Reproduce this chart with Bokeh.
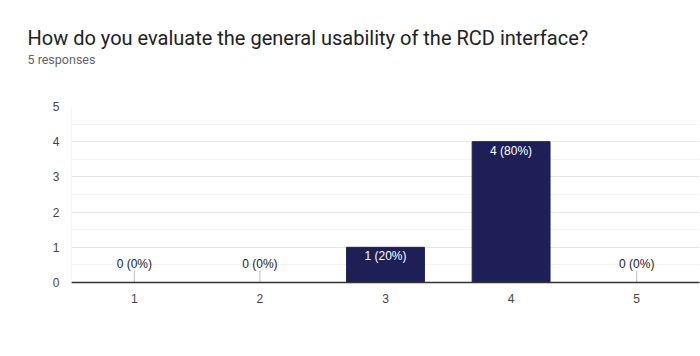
from bokeh.plotting import figure
from bokeh.models import Range1d, Title, SingleIntervalTicker, FixedTicker, ColumnDataSource, Span
from bokeh.core.properties import value
from bokeh.embed import file_html
from bokeh.resources import INLINE

title = "How do you evaluate the general usability of the RCD interface?"
subtitle = "5 responses"
categories = [1, 2, 3, 4, 5]
counts = [0, 0, 1, 4, 0]
total = sum(counts)
labels = [f"{c} ({round(100 * c / total)}%)" for c in counts]

BAR = "#1e1f56"
LEADER = 0.34  # leader line length (data units) for zero labels

p = figure(width=700, height=356, output_backend="svg", toolbar_location=None,
           x_range=Range1d(0.5, 5.5), y_range=Range1d(0, 5),
           min_border_left=71, min_border_right=1, min_border_top=106, min_border_bottom=74)
p.outline_line_color = None
p.background_fill_color = "white"
p.border_fill_color = "white"

src = ColumnDataSource(dict(x=categories, top=counts, label=labels))
pos = ColumnDataSource(dict(x=[c for c, v in zip(categories, counts) if v > 0],
                            top=[v for v in counts if v > 0],
                            label=[l for l, v in zip(labels, counts) if v > 0]))
zero = ColumnDataSource(dict(x=[c for c, v in zip(categories, counts) if v == 0],
                             y=[0 for v in counts if v == 0],
                             y1=[LEADER for v in counts if v == 0],
                             label=[l for l, v in zip(labels, counts) if v == 0]))

p.vbar(x="x", top="top", width=0.62, source=src, fill_color=BAR, line_color=BAR)

p.text(x="x", y="top", text="label", source=pos, text_align="center", text_baseline="top",
       y_offset=2, text_color="white", text_font_size="12px", text_font=value("Liberation Sans"))
p.segment(x0="x", y0="y", x1="x", y1="y1", source=zero, line_color="#bdbdbd", line_width=1)
p.text(x="x", y="y", text="label", source=zero, text_align="center", text_baseline="bottom",
       y_offset=-12, text_color="#222222", text_font_size="12px", text_font=value("Liberation Sans"))

# axes
p.yaxis.ticker = SingleIntervalTicker(interval=1, num_minor_ticks=2)
p.xaxis.ticker = FixedTicker(ticks=categories)
for ax in (p.xaxis, p.yaxis):
    ax.major_tick_line_color = None
    ax.minor_tick_line_color = None
    ax.major_label_text_font = "Liberation Sans"
    ax.major_label_text_font_size = "12px"
    ax.major_label_text_color = "#444444"
p.yaxis.axis_line_color = None
p.yaxis.major_label_standoff = 6
p.xaxis.axis_line_color = "#333333"
p.xaxis.axis_line_width = 1.5
p.xaxis.major_label_standoff = 5

p.xgrid.grid_line_color = None
p.ygrid.grid_line_color = "#e6e6e6"
p.ygrid.minor_grid_line_color = "#f3f3f3"
p.ygrid.level = "underlay"

p.add_layout(Span(location=0.5, dimension="height", line_color="#eeeeee", line_width=1))

# spacer between frame and subtitle
p.add_layout(Title(text=" ", standoff=37, text_font_size="1px"), "above")
p.add_layout(Title(text=subtitle, align="left", offset=-44, standoff=0,
                   text_font="Roboto", text_font_size="12.5px", text_color="#5f6368",
                   text_font_style="normal"), "above")
p.add_layout(Title(text=title, align="left", offset=-44, standoff=0,
                   text_font="Roboto", text_font_size="20px", text_color="#202124",
                   text_font_style="normal"), "above")

open("out.html", "w").write(file_html(p, INLINE))
